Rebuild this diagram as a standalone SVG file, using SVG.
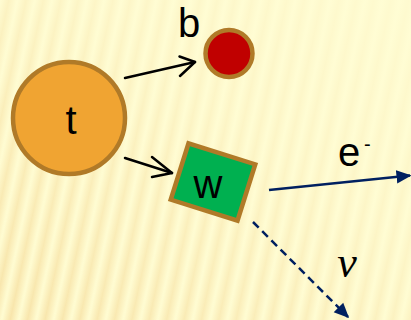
<svg xmlns="http://www.w3.org/2000/svg" width="411" height="320" viewBox="0 0 411 320">
<defs>
<style>
.lbl{font-family:"Liberation Sans",Arial,sans-serif;font-size:40px;fill:#000}
.brown{stroke:#B07A28;stroke-width:4.5}
.blk{stroke:#000;stroke-width:2.5;fill:none;stroke-linecap:round;stroke-linejoin:round}
.navy{stroke:#002060;stroke-width:2.5;fill:none}
</style>
<linearGradient id="sg" x1="0" y1="0" x2="1" y2="0">
<stop offset="0" stop-color="#FFFCD2"/>
<stop offset="0.5" stop-color="#F7E2A6"/>
<stop offset="1" stop-color="#FFFCD2"/>
</linearGradient>
<pattern id="stripes" width="17" height="400" patternUnits="userSpaceOnUse" patternTransform="rotate(12)">
<rect width="17" height="400" fill="url(#sg)"/>
</pattern>
<linearGradient id="fade" x1="0" y1="1" x2="1" y2="0">
<stop offset="0" stop-color="#FFFDD4" stop-opacity="0.1"/>
<stop offset="0.6" stop-color="#FFFDD4" stop-opacity="0.7"/>
<stop offset="1" stop-color="#FFFDD4" stop-opacity="0.9"/>
</linearGradient>
<marker id="tri" viewBox="0 0 10 10" refX="9" refY="5" markerWidth="15" markerHeight="15" orient="auto" markerUnits="userSpaceOnUse">
<path d="M0,0.5 L10,5 L0,9.5 Z" fill="#002060"/>
</marker>
</defs>
<rect width="411" height="320" fill="url(#stripes)"/>
<rect width="411" height="320" fill="url(#fade)"/>
<g id="connectors">
<g id="t-b"><line class="blk" x1="125" y1="78" x2="195" y2="62"/><polyline class="blk" points="179.5,56.5 195,62 180,76"/></g>
<g id="t-w"><line class="blk" x1="125" y1="158" x2="172" y2="173"/><polyline class="blk" points="152,157 172,173 152,177"/></g>
<line id="w-e" class="navy" x1="269" y1="190" x2="410" y2="175.5" marker-end="url(#tri)"/>
<line id="w-nu" class="navy" x1="253" y1="222" x2="348" y2="317" stroke-dasharray="8,5" marker-end="url(#tri)"/>
</g>
<g id="t"><circle cx="69" cy="118" r="56" fill="#F0A432" class="brown"/><text class="lbl" x="71" y="134" text-anchor="middle">t</text></g>
<g id="b"><circle cx="229" cy="53.5" r="23.5" fill="#C00000" class="brown"/><text class="lbl" x="189" y="37" text-anchor="middle">b</text></g>
<g id="w"><rect x="-35" y="-29.5" width="70" height="59" fill="#00B050" class="brown" transform="translate(213,182) rotate(17.5)"/><text class="lbl" x="208" y="198" text-anchor="middle">w</text></g>
<g id="e"><text class="lbl" x="349" y="166" text-anchor="middle">e</text><text x="364" y="151" style="font-family:'Liberation Sans',Arial,sans-serif;font-size:20px">-</text></g>
<g id="nu"><text x="347" y="277" text-anchor="middle" style="font-family:'Liberation Serif','Times New Roman',serif;font-style:italic;font-size:44px">ν</text></g>
</svg>
